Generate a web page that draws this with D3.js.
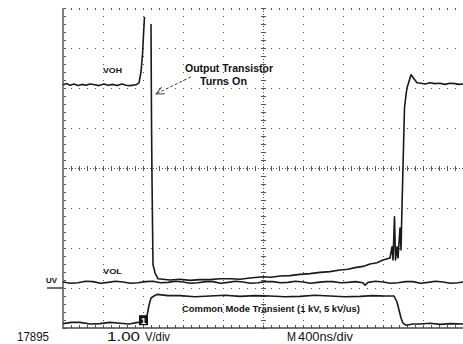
<!DOCTYPE html>
<html>
<head>
<meta charset="utf-8">
<script src="https://cdn.jsdelivr.net/npm/d3@7"></script>
<style>
  body { margin: 0; background: #fff; }
  svg { display: block; font-family: "Liberation Sans", Arial, sans-serif; }
</style>
</head>
<body>
<svg id="scope" width="463" height="344"></svg>
<script>
// time in ns (400 ns/div), amplitude in V (1.00 V/div), 0 V at the UV marker
const outputTime  = [0, 40, 70, 110, 150, 190, 230, 270, 320, 360, 410, 450, 500, 540, 590, 630, 670, 730, 760, 780, 795, 805, 815, 850,
  880, 885, 890, 895, 900, 920, 950, 1070, 1170, 1270, 1370, 1470, 1570, 1670, 1770, 1870, 2000, 2080, 2170, 2270, 2370, 2470, 2570, 2670, 2770,
  2850, 2920, 3000, 3070, 3140, 3200, 3270, 3290, 3300, 3315, 3325, 3340, 3350, 3370, 3380, 3390, 3400, 3415, 3430,
  3440, 3480, 3510, 3540, 3580, 3620, 3670, 3720, 3770, 3820, 3870, 3920, 3960, 4000];
const outputVolts = [5.08, 5.11, 5.07, 5.1, 5.06, 5.09, 5.07, 5.1, 5.08, 5.06, 5.1, 5.07, 5.09, 5.06, 5.1, 5.07, 5.06, 5.08, 5.13, 5.4, 5.83, 6.33, 6.78, null,
  6.6, 4.2, 2.75, 1.63, 0.58, 0.38, 0.23, 0.2, 0.22, 0.19, 0.21, 0.21, 0.23, 0.23, 0.22, 0.25, 0.28, 0.27, 0.3, 0.31, 0.34, 0.36, 0.39, 0.41, 0.45,
  0.47, 0.51, 0.54, 0.6, 0.63, 0.7, 0.75, 1.03, 0.7, 1.78, 0.7, 1.03, 0.75, 1.5, 0.95, 2.03, 3.03, 4.5, 4.83,
  5.0, 5.33, 5.23, 5.13, 5.12, 5.1, 5.13, 5.11, 5.12, 5.09, 5.12, 5.11, 5.09, 5.1];

const refTime  = [0, 75, 150, 225, 300, 375, 450, 525, 600, 675, 750, 825, 900, 975, 1050, 1125, 1200, 1275, 1350, 1425,
  1500, 1575, 1650, 1725, 1800, 1875, 1950, 2025, 2100, 2175, 2250, 2325, 2400, 2475, 2550, 2625, 2700, 2775, 2850,
  2925, 3000, 3020, 3050, 3125, 3200, 3275, 3350, 3425, 3500, 3575, 3650, 3725, 3800, 3875, 3950, 4000];
const refVolts = [0.15, 0.12, 0.13, 0.17, 0.16, 0.12, 0.14, 0.17, 0.15, 0.12, 0.13, 0.16, 0.17, 0.13, 0.14, 0.17, 0.15, 0.12,
  0.13, 0.16, 0.16, 0.12, 0.14, 0.17, 0.15, 0.12, 0.13, 0.16, 0.16, 0.13, 0.14, 0.17, 0.15, 0.12, 0.14, 0.16, 0.16, 0.13,
  0.14, 0.16, 0.13, 0.07, 0.14, 0.17, 0.15, 0.12, 0.13, 0.16, 0.16, 0.12, 0.14, 0.17, 0.15, 0.12, 0.13, 0.15];

const cmtTime  = [0, 85, 170, 270, 370, 470, 570, 660, 750, 820, 840, 860, 880, 910, 940, 1050, 1170, 1320, 1470, 1620, 1770, 1920, 2070,
  2220, 2370, 2520, 2670, 2820, 2970, 3100, 3220, 3310, 3340, 3360, 3380, 3400, 3430, 3500, 3570, 3670, 3770, 3880, 4000];
const cmtVolts = [-0.89, -0.86, -0.86, -0.9, -0.89, -0.86, -0.88, -0.9, -0.86, -0.85, -0.7, -0.43, -0.25, -0.2, -0.16, -0.19, -0.19, -0.22, -0.2, -0.18,
  -0.21, -0.19, -0.2, -0.22, -0.21, -0.18, -0.2, -0.22, -0.21, -0.19, -0.2, -0.2, -0.35, -0.55, -0.75, -0.88, -0.93, -0.9, -0.9, -0.88, -0.91, -0.89, -0.9];

const xTicks = d3.range(0, 4001, 400);
const yTicks = d3.range(-1, 7.01, 1);
const minorX = d3.range(0, 4001, 80);
const minorY = d3.range(-1, 7.01, 0.2);

const svg = d3.select('#scope');
const x = d3.scaleLinear().domain([0, 4000]).range([63, 463]);
const y = d3.scaleLinear().domain([-1, 7]).range([328, 8]);

svg.append('rect').attr('width', 463).attr('height', 344).attr('fill', '#fff');

svg.append('clipPath').attr('id', 'plot')
  .append('rect').attr('x', 63).attr('y', 8).attr('width', 400).attr('height', 320);

// graticule
const grid = svg.append('g').attr('stroke', '#555').attr('stroke-width', 1);

grid.selectAll('.vg').data(xTicks.filter(d => d > 0 && d !== 2000)).enter()
  .append('line')
  .attr('x1', d => x(d) + 0.5).attr('x2', d => x(d) + 0.5)
  .attr('y1', y(7)).attr('y2', y(-1))
  .attr('stroke-dasharray', '1,7');

grid.selectAll('.hg').data(yTicks.filter(d => d > -1 && d !== 3)).enter()
  .append('line')
  .attr('y1', d => y(d) + 0.5).attr('y2', d => y(d) + 0.5)
  .attr('x1', x(0)).attr('x2', x(4000))
  .attr('stroke-dasharray', '1,7');

// centre cross with minor ticks
grid.append('line')
  .attr('x1', x(0)).attr('x2', x(4000)).attr('y1', y(3) + 0.5).attr('y2', y(3) + 0.5)
  .attr('stroke-dasharray', '1,2');
grid.append('line')
  .attr('x1', x(2000) + 0.5).attr('x2', x(2000) + 0.5).attr('y1', y(7)).attr('y2', y(-1))
  .attr('stroke-dasharray', '1,2');
grid.selectAll('.tx').data(minorX).enter().append('line')
  .attr('x1', d => x(d) + 0.5).attr('x2', d => x(d) + 0.5)
  .attr('y1', y(3) - 2).attr('y2', y(3) + 3);
grid.selectAll('.ty').data(minorY).enter().append('line')
  .attr('y1', d => y(d) + 0.5).attr('y2', d => y(d) + 0.5)
  .attr('x1', x(2000) - 2).attr('x2', x(2000) + 3);

// edge ticks
grid.selectAll('.lt').data(minorY).enter().append('line')
  .attr('y1', d => y(d) + 0.5).attr('y2', d => y(d) + 0.5)
  .attr('x1', x(0)).attr('x2', x(0) + 3);
grid.selectAll('.bt').data(minorX).enter().append('line')
  .attr('x1', d => x(d) + 0.5).attr('x2', d => x(d) + 0.5)
  .attr('y1', y(-1) - 3).attr('y2', y(-1));
grid.selectAll('.tt').data(minorX).enter().append('line')
  .attr('x1', d => x(d) + 0.5).attr('x2', d => x(d) + 0.5)
  .attr('y1', y(7)).attr('y2', y(7) + 2);

// frame
svg.append('line').attr('x1', x(0)).attr('x2', x(0)).attr('y1', y(7)).attr('y2', y(-1) + 1)
  .attr('stroke', '#808080').attr('stroke-width', 2);
svg.append('line').attr('x1', x(0)).attr('x2', x(4000)).attr('y1', y(-1)).attr('y2', y(-1))
  .attr('stroke', '#444').attr('stroke-width', 1.5);

// traces
const traces = svg.append('g').attr('clip-path', 'url(#plot)')
  .attr('fill', 'none').attr('stroke', '#1a1a1a').attr('stroke-width', 1.6)
  .attr('stroke-linejoin', 'round');

const line = d3.line()
  .defined(d => d[1] !== null)
  .x(d => x(d[0])).y(d => y(d[1]));

traces.append('path').datum(d3.zip(refTime, refVolts)).attr('d', line);
traces.append('path').datum(d3.zip(cmtTime, cmtVolts)).attr('d', line);
traces.append('path').datum(d3.zip(outputTime, outputVolts)).attr('d', line);

// ground marker for channel 1 and UV level
svg.append('line').attr('x1', 47).attr('x2', x(0)).attr('y1', y(0)).attr('y2', y(0))
  .attr('stroke', '#111').attr('stroke-width', 1.2);
svg.append('rect').attr('x', x(760)).attr('y', y(-0.68)).attr('width', 9).attr('height', 10)
  .attr('fill', '#111');
svg.append('text').attr('x', x(805)).attr('y', y(-0.68) + 8.5).attr('text-anchor', 'middle')
  .attr('fill', '#fff').attr('font-size', 9).attr('font-weight', 'bold').text('1');

// annotation arrow
svg.append('defs').append('marker').attr('id', 'head')
  .attr('viewBox', '0 0 10 10').attr('refX', 9).attr('refY', 5)
  .attr('markerWidth', 9).attr('markerHeight', 9).attr('orient', 'auto')
  .append('path').attr('d', 'M0,1 L9,5 L0,9').attr('fill', 'none')
  .attr('stroke', '#444').attr('stroke-width', 1.1);
svg.append('line')
  .attr('x1', x(1280)).attr('y1', y(5.28)).attr('x2', x(930)).attr('y2', y(4.85))
  .attr('stroke', '#444').attr('stroke-width', 1).attr('stroke-dasharray', '3,2')
  .attr('marker-end', 'url(#head)');

// labels
const label = (t, tx, ty, size, weight, len) => {
  const el = svg.append('text').attr('x', tx).attr('y', ty)
    .attr('font-size', size).attr('font-weight', weight).attr('fill', '#111').text(t);
  if (len) el.attr('textLength', len).attr('lengthAdjust', 'spacingAndGlyphs');
  return el;
};
label('VOH', x(400), y(5.375), 8, 'bold', 19);
label('VOL', x(400), y(0.35), 8, 'bold', 19);
label('UV', 46, y(0.125), 8, 'bold', 11);
label('Output Transistor', x(1220), y(5.4), 10.5, 'bold', 88);
label('Turns On', x(1370), y(5.08), 10.5, 'bold', 47);
label('Common Mode Transient (1 kV, 5 kV/us)', x(1190), y(-0.6), 9, 'bold', 178);
label('17895', 17, 341, 12, 'normal', 32);
label('1.00', 107, 341, 13, 'normal', 33);
label('V/div', 145, 341, 13, 'normal', 25);
label('M', 287, 341, 13, 'normal', 9);
label('400ns/div', 298, 341, 13, 'normal', 55);
</script>
</body>
</html>
